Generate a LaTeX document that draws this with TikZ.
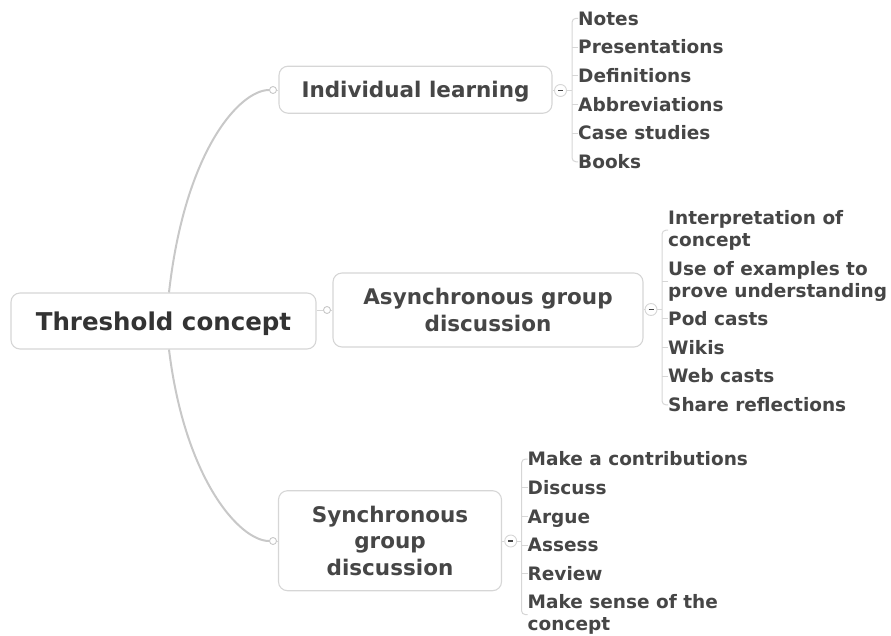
\documentclass[tikz,border=0pt]{standalone}
\usepackage{fontspec}
\setmainfont{DejaVu Sans}
\usetikzlibrary{positioning}
\definecolor{inkgray}{HTML}{464646}
\definecolor{inkdark}{HTML}{333333}
\definecolor{rimgray}{HTML}{D6D6D6}
\definecolor{stemgray}{HTML}{C8C8C8}

\begin{document}
\begin{tikzpicture}[x=1pt,y=-1pt,
  topic/.style={draw=rimgray, line width=1.1pt, rounded corners=9pt, fill=white, text=inkgray, align=center, inner sep=0pt, font=\bfseries\fontsize{21.5}{26.5}\selectfont},
  leaf/.style={inner sep=0pt, text=inkgray, align=left, font=\bfseries\fontsize{18.5}{22}\selectfont},
  oneline/.style={leaf, anchor=west, text height=13.5pt, text depth=0pt},
  knob/.style={circle, draw=stemgray, fill=white, line width=0.9pt, minimum size=7pt, inner sep=0pt},
  fold/.style={circle, draw=rimgray, fill=white, line width=0.9pt, minimum size=12pt, inner sep=0pt,
    path picture={\draw[inkgray, line width=1.4pt] ([xshift=-2.5pt]path picture bounding box.center) -- ([xshift=2.5pt]path picture bounding box.center);}},
  stem/.style={draw=stemgray, line width=2pt},
  twig/.style={draw=rimgray, line width=1pt}]
\useasboundingbox (0,0) rectangle (891,635);

\node[topic, minimum width=305pt, minimum height=56pt, text height=18pt, text depth=0pt, text=inkdark, font=\bfseries\fontsize{24.5}{30}\selectfont] (root) at (163.5,321) {Threshold concept};
\node[topic, minimum width=273pt, minimum height=47pt, text height=15.7pt, text depth=0pt] (ind) at (415.5,89.7) {Individual learning};
\node[topic, minimum width=310pt, minimum height=74pt] (asy) at (488,310) {Asynchronous group\\discussion};
\node[topic, minimum width=223pt, minimum height=100pt] (syn) at (390,540.7) {Synchronous\\group\\discussion};

\node[knob] (indk) at (273,90) {};
\node[knob] (asyk) at (327,310) {};
\node[knob] (synk) at (273,541) {};
\node[fold] (indf) at (560.5,90.5) {};
\node[fold] (asyf) at (651,309.5) {};
\node[fold] (synf) at (510.7,541) {};

\draw[stem] ([xshift=5.5pt]root.north) .. controls (185,150) and (240,90) .. (indk.west);
\draw[stem] ([xshift=5.5pt]root.south) .. controls (185,480) and (240,541) .. (synk.west);
\draw[twig] (root.east |- asyk) -- (asyk.west);
\draw[twig] (indk.east) -- (ind.west |- indk);
\draw[twig] (asyk.east) -- (asy.west |- asyk);
\draw[twig] (synk.east) -- (syn.west |- synk);
\draw[twig] (ind.east |- indf) -- (indf.west);
\draw[twig] (asy.east |- asyf) -- (asyf.west);
\draw[twig] (syn.east |- synf) -- (synf.west);

\node[oneline] (ind1) at (578,18.3) {Notes};
\node[oneline] (ind2) at (578,47) {Presentations};
\node[oneline] (ind3) at (578,75.7) {Definitions};
\node[oneline] (ind4) at (578,104.4) {Abbreviations};
\node[oneline] (ind5) at (578,133.1) {Case studies};
\node[oneline] (ind6) at (578,161.8) {Books};

\node[leaf, anchor=north west] (asy1) at (668,210) {Interpretation of\\concept};
\node[leaf, anchor=north west] (asy2) at (668,261) {Use of examples to\\prove understanding};
\node[oneline] (asy3) at (668,318.8) {Pod casts};
\node[oneline] (asy4) at (668,347.5) {Wikis};
\node[oneline] (asy5) at (668,376.2) {Web casts};
\node[oneline] (asy6) at (668,404.9) {Share reflections};

\node[oneline] (syn1) at (527.5,459) {Make a contributions};
\node[oneline] (syn2) at (527.5,487.7) {Discuss};
\node[oneline] (syn3) at (527.5,516.4) {Argue};
\node[oneline] (syn4) at (527.5,545.1) {Assess};
\node[oneline] (syn5) at (527.5,573.8) {Review};
\node[leaf, anchor=north west] (syn6) at (527.5,594.5) {Make sense of the\\concept};

\draw[twig] (indf.east) -- ([xshift=-6pt]ind3.west |- indf.east);
\draw[twig, rounded corners=4pt] (ind1.west) -- ++(-6,0) |- (ind6.west);
\draw[twig] (ind2.west) -- ++(-6,0);
\draw[twig] (ind3.west) -- ++(-6,0);
\draw[twig] (ind4.west) -- ++(-6,0);
\draw[twig] (ind5.west) -- ++(-6,0);

\draw[twig] (asyf.east) -- ([xshift=-6pt]asy3.west |- asyf.east);
\draw[twig, rounded corners=4pt] (asy1.west) -- ++(-6,0) |- (asy6.west);
\draw[twig] (asy2.west) -- ++(-6,0);
\draw[twig] (asy3.west) -- ++(-6,0);
\draw[twig] (asy4.west) -- ++(-6,0);
\draw[twig] (asy5.west) -- ++(-6,0);

\draw[twig] (synf.east) -- ([xshift=-6pt]syn3.west |- synf.east);
\draw[twig, rounded corners=4pt] (syn1.west) -- ++(-6,0) |- (syn6.west);
\draw[twig] (syn2.west) -- ++(-6,0);
\draw[twig] (syn3.west) -- ++(-6,0);
\draw[twig] (syn4.west) -- ++(-6,0);
\draw[twig] (syn5.west) -- ++(-6,0);
\end{tikzpicture}
\end{document}
